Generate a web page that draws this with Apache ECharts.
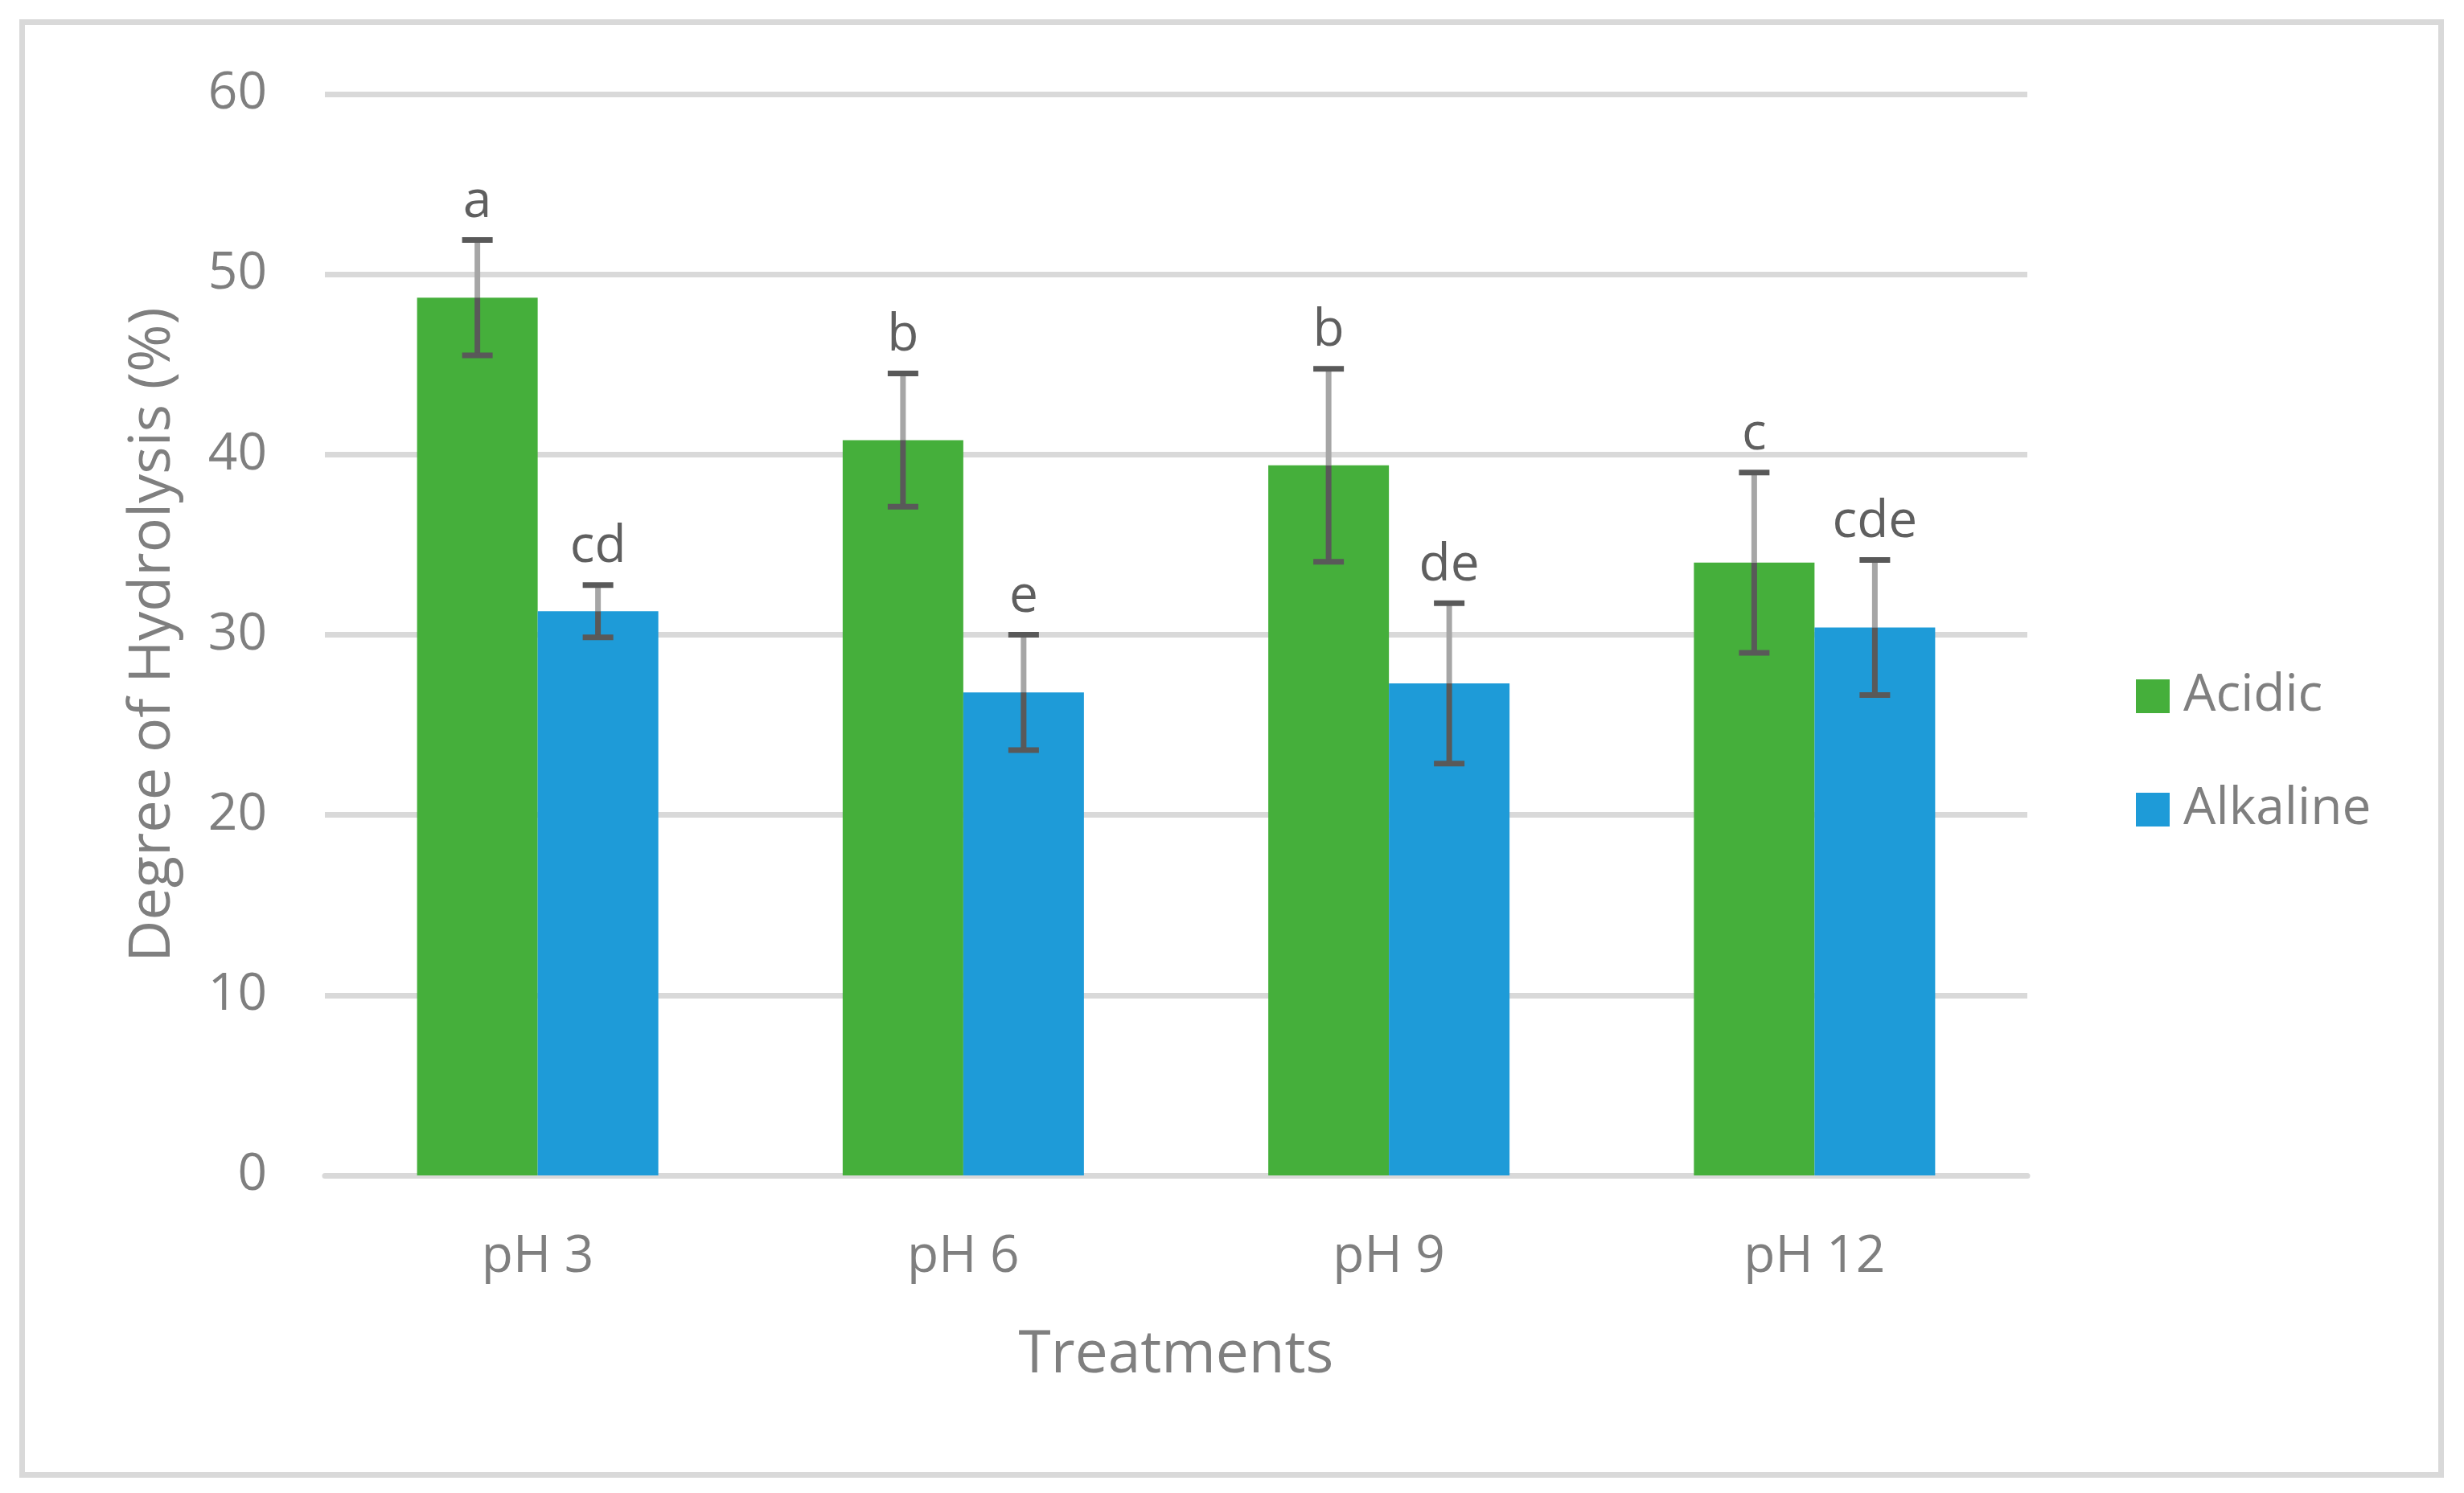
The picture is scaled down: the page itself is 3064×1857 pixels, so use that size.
<!DOCTYPE html>
<html>
<head>
<meta charset="utf-8">
<script src="https://cdn.jsdelivr.net/npm/echarts@6/dist/echarts.min.js"></script>
<style>
html,body{margin:0;padding:0;background:#fff;}
#chart{width:3064px;height:1857px;}
</style>
</head>
<body>
<div id="chart"></div>
<script>
var categories = ['pH 3', 'pH 6', 'pH 9', 'pH 12'];
var acidic = [48.7, 40.8, 39.4, 34.0];
var acidicErr = [3.2, 3.7, 5.35, 5.0];
var acidicLetters = ['a', 'b', 'b', 'c'];
var alkaline = [31.3, 26.8, 27.3, 30.4];
var alkalineErr = [1.45, 3.2, 4.45, 3.75];
var alkalineLetters = ['cd', 'e', 'de', 'cde'];
var yTicks = [0, 10, 20, 30, 40, 50, 60];

var FONT = '"Open Sans", "Noto Sans", sans-serif';
var BAR_W = 150;

function errData(vals, errs, letters) {
  return vals.map(function (v, i) { return [i, v, v - errs[i], v + errs[i], letters[i]]; });
}

function makeErrRender(sign) {
  return function (params, api) {
    var idx = api.value(0);
    var v = api.value(1), lo = api.value(2), hi = api.value(3);
    var pv = api.coord([idx, v]);
    var x = pv[0] + sign * BAR_W / 2;
    var yv = pv[1];
    var yl = api.coord([idx, lo])[1];
    var yh = api.coord([idx, hi])[1];
    var label = api.value(4);
    var dark = '#595959', light = '#a6a6a6', cw = 19, lw = 7;
    return {
      type: 'group',
      children: [
        { type: 'line', shape: { x1: x, y1: yh, x2: x, y2: yv }, style: { stroke: light, lineWidth: lw } },
        { type: 'line', shape: { x1: x, y1: yv, x2: x, y2: yl }, style: { stroke: dark, lineWidth: lw } },
        { type: 'line', shape: { x1: x - cw, y1: yh, x2: x + cw, y2: yh }, style: { stroke: dark, lineWidth: lw } },
        { type: 'line', shape: { x1: x - cw, y1: yl, x2: x + cw, y2: yl }, style: { stroke: dark, lineWidth: lw } },
        { type: 'text', style: { x: x, y: yh - 47, text: label, fill: '#5f5f5f', font: '64px ' + FONT, align: 'center', verticalAlign: 'middle' } }
      ]
    };
  };
}

var chart = echarts.init(document.getElementById('chart'), null, { renderer: 'canvas' });
chart.setOption({
  backgroundColor: '#ffffff',
  animation: false,
  textStyle: { fontFamily: FONT },
  graphic: [{
    type: 'rect',
    shape: { x: 27.5, y: 27.5, width: 3008, height: 1807 },
    style: { fill: 'none', stroke: '#d9d9d9', lineWidth: 7 },
    z: -10
  }],
  grid: { left: 404, right: 543, top: 117, bottom: 395, containLabel: false },
  legend: {
    orient: 'vertical',
    left: 2651,
    top: 828,
    itemWidth: 42,
    itemHeight: 42,
    itemGap: 75,
    icon: 'rect',
    data: ['Acidic', 'Alkaline'],
    textStyle: { color: '#7f7f7f', fontSize: 64, fontFamily: FONT, lineHeight: 66, padding: [0, 0, 0, 12] }
  },
  xAxis: {
    type: 'category',
    data: categories,
    name: 'Treatments',
    nameLocation: 'middle',
    nameGap: 188,
    nameTextStyle: { color: '#7f7f7f', fontSize: 73, fontFamily: FONT },
    axisLine: { show: true, lineStyle: { color: '#d9d9d9', width: 7 } },
    axisTick: { show: false },
    axisLabel: { color: '#7f7f7f', fontSize: 64, fontFamily: FONT, margin: 70 }
  },
  yAxis: {
    type: 'value',
    min: 0, max: 60, interval: 10,
    name: 'Degree of Hydrolysis (%)',
    nameLocation: 'middle',
    nameGap: 178,
    nameRotate: 90,
    nameTextStyle: { color: '#7f7f7f', fontSize: 72, fontFamily: FONT },
    axisLine: { show: false },
    axisTick: { show: false },
    axisLabel: { color: '#7f7f7f', fontSize: 64, fontFamily: FONT, margin: 72, padding: [6, 0, 0, 0],
      formatter: function (v) { return yTicks.indexOf(v) >= 0 ? String(v) : ''; } },
    splitLine: { show: true, lineStyle: { color: '#d9d9d9', width: 7 } }
  },
  series: [
    { name: 'Acidic', type: 'bar', data: acidic, barWidth: BAR_W, barGap: '0%', itemStyle: { color: '#45af3b' }, z: 2 },
    { name: 'Alkaline', type: 'bar', data: alkaline, barWidth: BAR_W, barGap: '0%', itemStyle: { color: '#1e9bd8' }, z: 2 },
    { name: 'AcidicErr', type: 'custom', data: errData(acidic, acidicErr, acidicLetters), renderItem: makeErrRender(-1), z: 5, silent: true,
      encode: { x: 0, y: [1, 2, 3] } },
    { name: 'AlkalineErr', type: 'custom', data: errData(alkaline, alkalineErr, alkalineLetters), renderItem: makeErrRender(1), z: 5, silent: true,
      encode: { x: 0, y: [1, 2, 3] } }
  ]
});
</script>
</body>
</html>
